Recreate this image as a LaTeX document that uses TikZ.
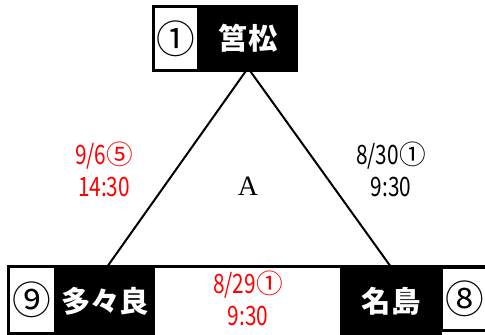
\documentclass[tikz,border=0pt]{standalone}
\usepackage{fontspec}
\usepackage{graphicx}
\setmainfont{Noto Sans CJK JP}
\newfontfamily\serifA{Liberation Serif}
\newcommand{\nd}[1]{\scalebox{0.78}[1]{#1}}
\begin{document}
\begin{tikzpicture}[x=0.75pt,y=-0.75pt,
  blk/.style={fill=black, draw=none, inner sep=0pt, text=white,
    font=\fontsize{22}{26}\selectfont\bfseries},
  wht/.style={fill=white, draw=black, line width=2pt, inner sep=0pt,
    font=\fontsize{29}{30}\selectfont},
  lbl/.style={align=center, inner sep=0pt, font=\fontsize{20}{24}\selectfont},
  edge/.style={line width=1.5pt}]
\useasboundingbox (0,0) rectangle (485,335);
\fill[white] (0,0) rectangle (485,335);
% triangle
\coordinate (apex) at (248,68);
\coordinate (bl) at (107,267);
\coordinate (br) at (391,267);
\coordinate (hl) at (7,266);
\coordinate (hr) at (485,266);
\draw[edge] (bl) -- (apex) -- (br);
\draw[line width=2.25pt] (hl) -- (hr);
% top box
\node[blk, minimum width=75pt, minimum height=50.25pt] (topname) at (248,38.5) {筥松};
\node[wht, minimum width=34pt, minimum height=48.3pt] (topnum) at (176,38.5) {①};
% bottom left box
\node[blk, minimum width=75pt, minimum height=54pt] (lname) at (105,301) {多々良};
\node[wht, minimum width=35pt, minimum height=50.5pt] (lnum) at (31.7,300) {⑨};
% bottom right box
\node[blk, minimum width=76.5pt, minimum height=54pt] (rname) at (391,301) {名島};
\node[wht, minimum width=35pt, minimum height=47.5pt] (rnum) at (464.7,299) {⑧};
% labels
\node[lbl, text=red] (leftlbl) at (104,169) {\nd{9/6}⑤\\\nd{14:30}};
\node[lbl] (rightlbl) at (391,169) {\nd{8/30}①\\\nd{9:30}};
\node[lbl, text=red] (botlbl) at (248,298) {\nd{8/29}①\\\nd{9:30}};
\node[inner sep=0pt, font=\serifA\fontsize{21}{24}\selectfont] (area) at (248,186) {A};
\end{tikzpicture}
\end{document}
